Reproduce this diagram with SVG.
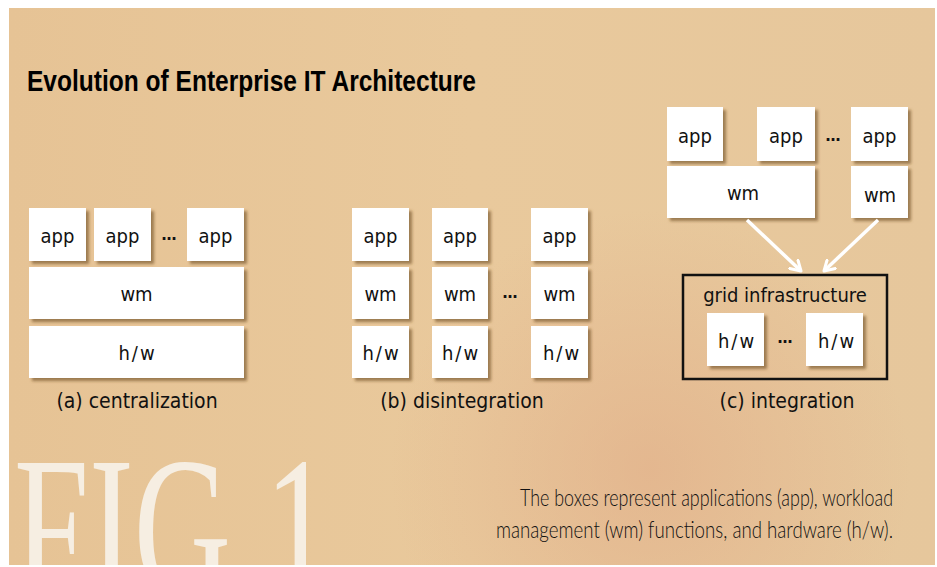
<svg xmlns="http://www.w3.org/2000/svg" width="937" height="567" viewBox="0 0 937 567">
<defs>
<linearGradient id="bg" x1="0" y1="0" x2="1" y2="0">
<stop offset="0" stop-color="#E6C395"/>
<stop offset="0.5" stop-color="#E9C99C"/>
<stop offset="1" stop-color="#E6C79C"/>
</linearGradient>
<radialGradient id="pink" cx="650" cy="470" r="260" gradientUnits="userSpaceOnUse">
<stop offset="0" stop-color="#E0A985" stop-opacity="0.55"/>
<stop offset="1" stop-color="#E0A985" stop-opacity="0"/>
</radialGradient>
<filter id="sh" x="-20%" y="-20%" width="150%" height="150%">
<feDropShadow dx="3" dy="3" stdDeviation="1.6" flood-color="#6b4a22" flood-opacity="0.6"/>
</filter>
<clipPath id="clip"><rect x="9" y="8" width="926" height="557"/></clipPath>
<marker id="ah" viewBox="0 0 14 14" refX="11" refY="7" markerWidth="14" markerHeight="14" markerUnits="userSpaceOnUse" orient="auto">
<path d="M1,1 L11,7 L1,13" fill="none" stroke="#fff" stroke-width="3" stroke-linecap="round" stroke-linejoin="round"/>
</marker>
<style>
.box{fill:#fff;filter:url(#sh)}
.t{font-family:"DejaVu Sans",Verdana,sans-serif;font-stretch:condensed;font-size:20px;fill:#111;text-anchor:middle}
.hw{letter-spacing:2px}
.lbl{font-family:"DejaVu Sans",Verdana,sans-serif;font-stretch:condensed;font-size:21px;fill:#111;text-anchor:middle}
.dots{font-family:"DejaVu Sans",sans-serif;font-size:15px;font-weight:bold;fill:#111;text-anchor:middle}
.arr{stroke:#fff;stroke-width:3.5;fill:none;marker-end:url(#ah)}
</style>
</defs>
<rect x="0" y="0" width="937" height="567" fill="#fff"/>
<rect x="9" y="8" width="926" height="557" fill="url(#bg)"/>
<rect x="9" y="8" width="926" height="557" fill="url(#pink)"/>
<text x="27" y="91" font-family="'Liberation Sans',Arial,sans-serif" font-weight="bold" font-size="29" textLength="449" lengthAdjust="spacingAndGlyphs" fill="#000">Evolution of Enterprise IT Architecture</text>
<g clip-path="url(#clip)">
<text x="14" y="598" font-family="'Liberation Serif','Times New Roman',serif" font-size="205" textLength="318" lengthAdjust="spacingAndGlyphs" fill="#F6EEE2">FIG 1</text>
</g>
<g font-family="Lato,'Liberation Sans',Arial,sans-serif" font-weight="300" font-size="24" fill="#111" text-anchor="end">
<text x="893" y="506" textLength="373" lengthAdjust="spacingAndGlyphs">The boxes represent applications (app), workload</text>
<text x="893" y="538" textLength="397" lengthAdjust="spacingAndGlyphs">management (wm) functions, and hardware (h/w).</text>
</g>

<g id="a">
<g id="a-app1"><rect class="box" x="29" y="208" width="57" height="53"/><text class="t" x="57.5" y="243">app</text></g>
<g id="a-app2"><rect class="box" x="94" y="208" width="57" height="53"/><text class="t" x="122.5" y="243">app</text></g>
<text class="dots" x="169" y="240">…</text>
<g id="a-app3"><rect class="box" x="187" y="208" width="57" height="53"/><text class="t" x="215.5" y="243">app</text></g>
<g id="a-wm"><rect class="box" x="29" y="267" width="215" height="52"/><text class="t" x="136.5" y="301">wm</text></g>
<g id="a-hw"><rect class="box" x="29" y="326" width="215" height="52"/><text class="t hw" x="137.5" y="360">h/w</text></g>
<text class="lbl" x="137" y="408">(a) centralization</text>
</g>

<g id="b">
<g id="b-app1"><rect class="box" x="352" y="208" width="57" height="53"/><text class="t" x="380.5" y="243">app</text></g>
<g id="b-wm1"><rect class="box" x="352" y="267" width="57" height="52"/><text class="t" x="380.5" y="301">wm</text></g>
<g id="b-hw1"><rect class="box" x="352" y="326" width="57" height="52"/><text class="t hw" x="381.5" y="360">h/w</text></g>
<g id="b-app2"><rect class="box" x="432" y="208" width="56" height="53"/><text class="t" x="460" y="243">app</text></g>
<g id="b-wm2"><rect class="box" x="432" y="267" width="56" height="52"/><text class="t" x="460" y="301">wm</text></g>
<g id="b-hw2"><rect class="box" x="432" y="326" width="56" height="52"/><text class="t hw" x="461" y="360">h/w</text></g>
<text class="dots" x="510" y="298">…</text>
<g id="b-app3"><rect class="box" x="531" y="208" width="57" height="53"/><text class="t" x="559.5" y="243">app</text></g>
<g id="b-wm3"><rect class="box" x="531" y="267" width="57" height="52"/><text class="t" x="559.5" y="301">wm</text></g>
<g id="b-hw3"><rect class="box" x="531" y="326" width="57" height="52"/><text class="t hw" x="562" y="360">h/w</text></g>
<text class="lbl" x="462" y="408">(b) disintegration</text>
</g>

<g id="c">
<g id="c-app1"><rect class="box" x="667" y="107" width="56" height="54"/><text class="t" x="695" y="143">app</text></g>
<g id="c-app2"><rect class="box" x="757" y="107" width="58" height="54"/><text class="t" x="786" y="143">app</text></g>
<text class="dots" x="833" y="141">…</text>
<g id="c-app3"><rect class="box" x="851" y="107" width="57" height="54"/><text class="t" x="879.5" y="143">app</text></g>
<g id="c-wm1"><rect class="box" x="667" y="166" width="148" height="52"/><text class="t" x="743" y="200">wm</text></g>
<g id="c-wm2"><rect class="box" x="851" y="166" width="57" height="52"/><text class="t" x="880" y="202">wm</text></g>
<g id="c-grid">
<rect x="683" y="275" width="204" height="104" fill="none" stroke="#111" stroke-width="2.5"/>
<text class="t" x="785" y="302">grid infrastructure</text>
<g id="c-hw1"><rect class="box" x="707" y="313" width="57" height="53"/><text class="t hw" x="737" y="348">h/w</text></g>
<text class="dots" x="785" y="343">…</text>
<g id="c-hw2"><rect class="box" x="806" y="313" width="57" height="53"/><text class="t hw" x="837" y="348">h/w</text></g>
</g>
<text class="lbl" x="787" y="408">(c) integration</text>
</g>

<g id="connectors">
<line class="arr" x1="747" y1="220" x2="801" y2="271"/>
<line class="arr" x1="878" y1="220" x2="824" y2="271"/>
</g>
</svg>
